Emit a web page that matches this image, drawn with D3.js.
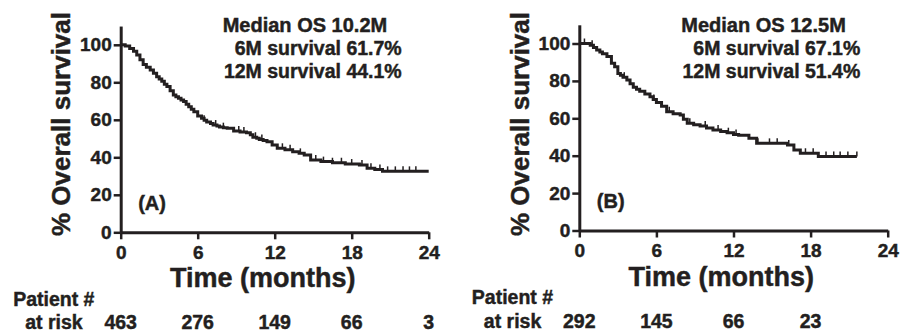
<!DOCTYPE html>
<html>
<head>
<meta charset="utf-8">
<script src="https://cdn.jsdelivr.net/npm/d3@7/dist/d3.min.js"></script>
<style>
  html, body { margin: 0; padding: 0; background: #fff; }
  svg text { font-family: "Liberation Sans", Arial, Helvetica, sans-serif; font-weight: bold; fill: #231f20; stroke: #231f20; stroke-width: 0.45px; }
</style>
</head>
<body>
<svg id="chart" width="909" height="333"></svg>
<script>
// ---------------- DATA ----------------
const xTicks = [0, 6, 12, 18, 24];
const yTicks = [0, 20, 40, 60, 80, 100];

// Panel A
const aTimes = [0, 0.35, 0.7, 1.0, 1.25, 1.5, 1.75, 2.0, 2.3, 2.55, 2.8, 3.0, 3.2, 3.4, 3.6, 3.85, 4.1, 4.3, 4.5, 4.7, 4.9, 5.1, 5.3, 5.5, 5.7, 6.0, 6.3, 6.5, 6.7, 7.0, 7.2, 7.5, 7.7, 8.0, 8.3, 8.8, 9.3, 9.8, 10.1, 10.3, 10.6, 10.8, 11.1, 11.4, 11.8, 12.2, 12.8, 13.4, 13.9, 14.3, 14.8, 15.6, 16.5, 17.5, 18.6, 19.2, 19.8, 20.4, 24.0];
const aSurv  = [100, 99.3, 98, 96.5, 94.5, 92, 89.5, 88, 86.5, 84.8, 83, 81.8, 80.5, 79, 77.7, 75.5, 73.2, 72.3, 71.5, 70.6, 69.7, 68.3, 67, 65.6, 64.3, 62, 60.8, 59.8, 58.8, 58, 57.2, 56.7, 56.2, 55.8, 55.5, 54, 53.5, 53.1, 52, 50.7, 50.1, 49.5, 48.9, 48.3, 46.5, 44.8, 44, 43, 42.1, 41.2, 38.6, 37.7, 37.1, 36.4, 35.9, 34.1, 33.5, 32.5, 32.5];
const aCensor = [6.5, 7.4, 8.0, 9.2, 9.6, 10.5, 11.0, 12.6, 13.2, 14.0, 15.2, 15.8, 16.5, 17.2, 18.0, 18.8, 19.5, 20.2, 20.8, 21.4, 22.0, 22.5, 23.0];
const aRisk = ["463", "276", "149", "66", "3"];
const aText = ["Median OS 10.2M", "6M survival 61.7%", "12M survival 44.1%"];
const aLabel = "(A)";

// Panel B
const bTimes = [0, 0.5, 0.85, 1.1, 1.35, 1.6, 1.8, 2.15, 2.5, 2.75, 3.0, 3.2, 3.4, 3.7, 3.95, 4.2, 4.45, 4.7, 5.1, 5.5, 5.75, 6.0, 6.4, 6.8, 7.3, 7.85, 8.1, 8.4, 8.9, 9.4, 9.9, 10.4, 11.0, 11.5, 12.0, 12.4, 13.2, 13.8, 16.2, 16.7, 17.2, 18.6, 21.6];
const bSurv  = [100, 100, 99, 97.8, 96.5, 95.5, 94.5, 93, 89.5, 87.6, 84, 83, 82, 80.5, 78.5, 76.6, 75.5, 74.5, 73, 71.5, 70, 68.5, 66.5, 63.5, 62.5, 61.8, 59.5, 57.3, 56.5, 55.9, 54.8, 53.7, 53, 52.3, 51.4, 51, 49.3, 46.6, 45.7, 43, 41.3, 39.6, 39.6];
const bCensor = [0.4, 1.0, 3.5, 5.8, 7.0, 8.6, 9.8, 10.8, 11.6, 12.2, 13.9, 14.8, 15.4, 16.3, 17.6, 18.2, 19.2, 19.8, 20.3, 20.9, 21.6];
const bRisk = ["292", "145", "66", "23"];
const bText = ["Median OS 12.5M", "6M survival 67.1%", "12M survival 51.4%"];
const bLabel = "(B)";

const yTitle = "% Overall survival";
const xTitle = "Time (months)";
const riskTitle1 = "Patient #";
const riskTitle2 = "at risk";

// ---------------- DRAW ----------------
const svg = d3.select("#chart");
const ink = "#231f20";

function panel(cfg) {
  const g = svg.append("g");
  const x = d3.scaleLinear().domain([0, 24]).range([cfg.x0, cfg.x1]);
  const y = d3.scaleLinear().domain([0, 110]).range([cfg.y0, cfg.y0 - cfg.yUnit * 110]);

  // axes
  const yAxis = d3.axisLeft(y).tickValues(yTicks).tickSize(7).tickPadding(2).tickSizeOuter(0);
  const xAxis = d3.axisBottom(x).tickValues(xTicks).tickSize(7).tickPadding(6).tickSizeOuter(0);
  const gy = g.append("g").attr("transform", `translate(${cfg.x0},0)`).call(yAxis);
  const gx = g.append("g").attr("transform", `translate(0,${cfg.y0})`).call(xAxis);
  [gx, gy].forEach(a => {
    a.select(".domain").attr("stroke", ink).attr("stroke-width", 3);
    a.selectAll(".tick line").attr("stroke", ink).attr("stroke-width", 2.5);
    a.selectAll(".tick text").style("font-size", "19px").attr("fill", ink);
  });

  // curve
  const pts = cfg.times.map((t, i) => [t, cfg.surv[i]]);
  const line = d3.line().x(d => x(d[0])).y(d => y(d[1])).curve(d3.curveStepAfter);
  g.append("path").datum(pts).attr("d", line)
    .attr("fill", "none").attr("stroke", ink).attr("stroke-width", 3);

  // censor marks
  function survAt(t) {
    let s = cfg.surv[0];
    for (let i = 0; i < cfg.times.length; i++) { if (cfg.times[i] <= t) s = cfg.surv[i]; }
    return s;
  }
  g.selectAll(".cens").data(cfg.censor).enter().append("line")
    .attr("x1", d => x(d)).attr("x2", d => x(d))
    .attr("y1", d => y(survAt(d))).attr("y2", d => y(survAt(d)) - 5)
    .attr("stroke", ink).attr("stroke-width", 1.5);

  // annotation
  g.append("text").attr("x", cfg.x0 + 102).attr("y", 31.5).style("font-size", "20px").text(cfg.text[0]);
  g.append("text").attr("x", cfg.x0 + 281).attr("y", 54.5).attr("text-anchor", "end").style("font-size", "19.5px").text(cfg.text[1]);
  g.append("text").attr("x", cfg.x0 + 281).attr("y", 77.5).attr("text-anchor", "end").style("font-size", "19.5px").text(cfg.text[2]);

  // panel label
  g.append("text").attr("x", cfg.x0 + 17.5).attr("y", cfg.y0 - 22.5).style("font-size", "20px").text(cfg.label);

  // y title
  g.append("text").attr("transform", `translate(${cfg.x0 - 50.5},124) rotate(-90)`)
    .attr("text-anchor", "middle").style("font-size", "26px").text(yTitle);

  // x title
  g.append("text").attr("x", cfg.x0 + 142).attr("y", cfg.y0 + 55)
    .attr("text-anchor", "middle").style("font-size", "27px").text(xTitle);

  // risk table
  g.append("text").attr("x", cfg.x0 - 107.5).attr("y", cfg.y0 + 73.5).style("font-size", "19.5px").text(riskTitle1);
  g.append("text").attr("x", cfg.x0 - 95.5).attr("y", cfg.y0 + 97).style("font-size", "19.5px").text(riskTitle2);
  g.selectAll(".risk").data(cfg.risk).enter().append("text")
    .attr("x", (d, i) => x(xTicks[i])).attr("y", cfg.y0 + 97)
    .attr("text-anchor", "middle").style("font-size", "19.5px").text(d => d);
}

panel({ x0: 120.7, x1: 428.7, y0: 232.3, yUnit: 1.875, times: aTimes, surv: aSurv, censor: aCensor, risk: aRisk, text: aText, label: aLabel });
panel({ x0: 579.3, x1: 887.7, y0: 230.5, yUnit: 1.87, times: bTimes, surv: bSurv, censor: bCensor, risk: bRisk, text: bText, label: bLabel });
</script>
</body>
</html>
